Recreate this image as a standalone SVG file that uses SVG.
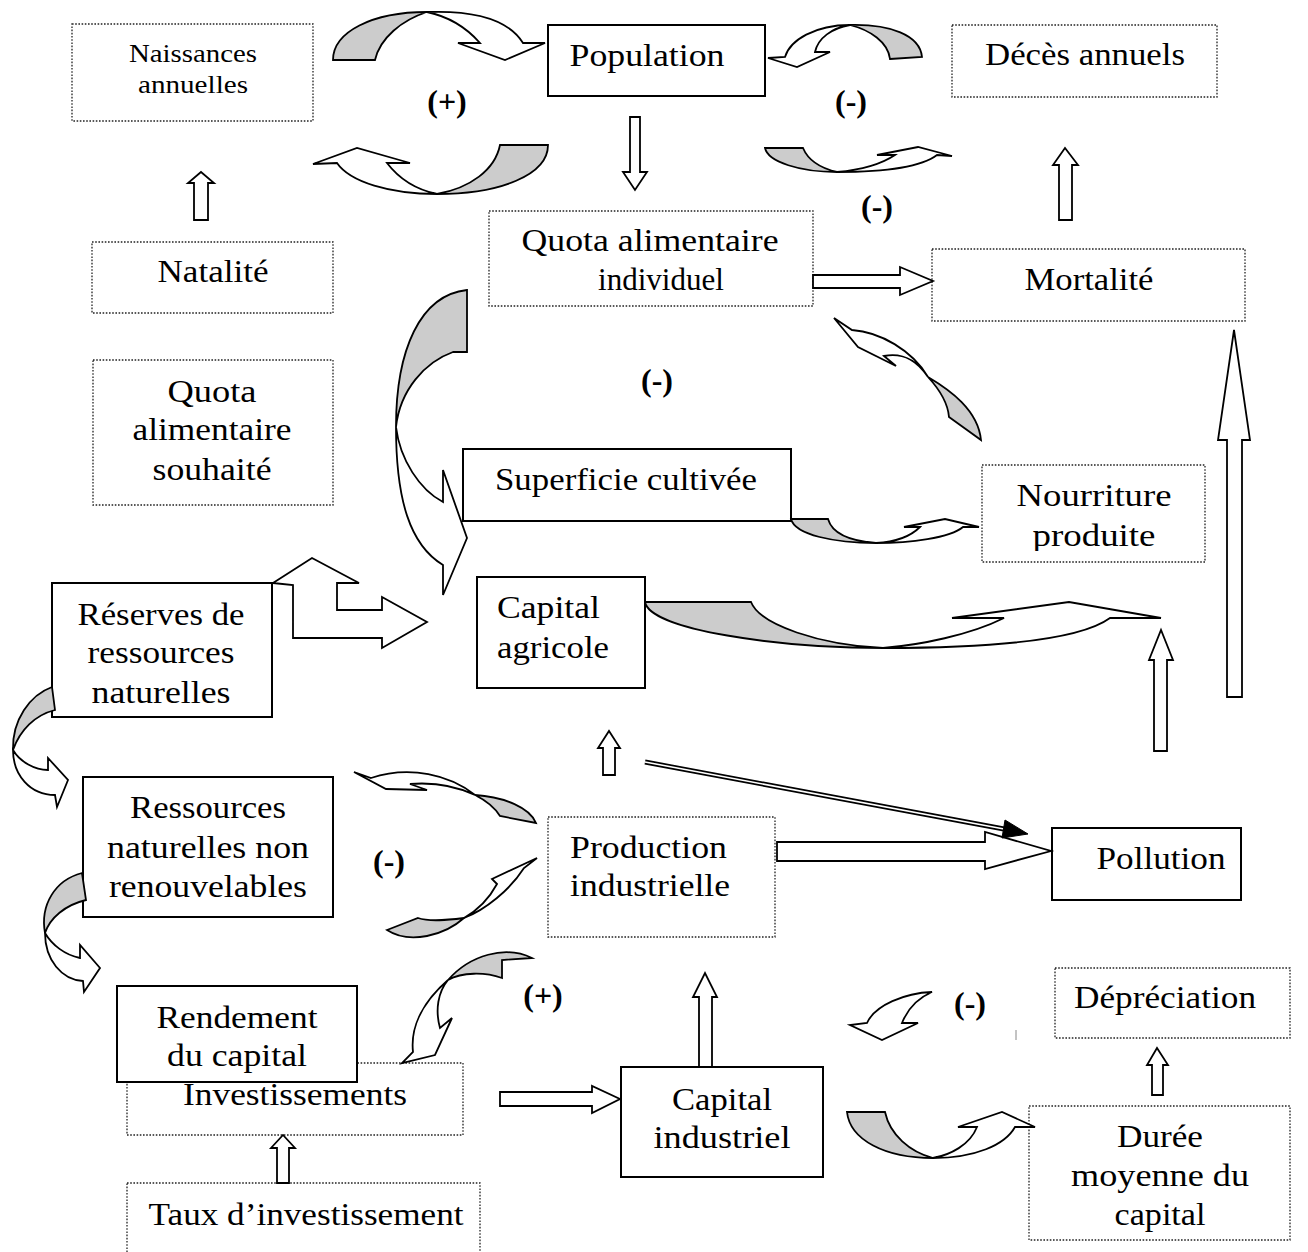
<svg xmlns="http://www.w3.org/2000/svg" width="1308" height="1252" viewBox="0 0 1308 1252">
<style>
.solid{fill:#fff;stroke:#000;stroke-width:2}
.dot{fill:#fff;stroke:#222;stroke-width:1.3;stroke-dasharray:1.6 1.6}
.t{font-family:"Liberation Serif",serif;font-size:32px;fill:#000;text-anchor:middle}
.l{text-anchor:start}
.s{font-weight:bold}
.blk{fill:#fff;stroke:#000;stroke-width:1.8;stroke-linejoin:miter}
.g{fill:#cccccc;stroke:#000;stroke-width:1.8;stroke-linejoin:miter}
</style>
<defs>
<clipPath id="clipNour"><rect x="982" y="465" width="223" height="86"/></clipPath>
</defs>
<rect width="1308" height="1252" fill="#fff"/>

<g id="nodes">
<g id="naissances"><rect class="dot" x="72" y="24" width="241" height="97"/>
<text class="t" style="font-size:26px" x="193" y="62" textLength="128" lengthAdjust="spacingAndGlyphs">Naissances</text>
<text class="t" style="font-size:26px" x="193" y="93" textLength="110" lengthAdjust="spacingAndGlyphs">annuelles</text></g>
<g id="population"><rect class="solid" x="548" y="25" width="217" height="71"/>
<text class="t" x="647" y="66" textLength="155" lengthAdjust="spacingAndGlyphs">Population</text></g>
<g id="deces"><rect class="dot" x="952" y="25" width="265" height="72"/>
<text class="t" x="1085" y="65" textLength="200" lengthAdjust="spacingAndGlyphs">Décès annuels</text></g>
<g id="natalite"><rect class="dot" x="92" y="242" width="241" height="71"/>
<text class="t" x="213" y="282" textLength="111" lengthAdjust="spacingAndGlyphs">Natalité</text></g>
<g id="quota-indiv"><rect class="dot" x="489" y="211" width="324" height="95"/>
<text class="t" x="650" y="251" textLength="257" lengthAdjust="spacingAndGlyphs">Quota alimentaire</text>
<text class="t" x="661" y="290" textLength="126" lengthAdjust="spacingAndGlyphs">individuel</text></g>
<g id="mortalite"><rect class="dot" x="932" y="249" width="313" height="72"/>
<text class="t" x="1089" y="290" textLength="129" lengthAdjust="spacingAndGlyphs">Mortalité</text></g>
<g id="quota-souhaite"><rect class="dot" x="93" y="360" width="240" height="145"/>
<text class="t" x="212" y="402" textLength="89" lengthAdjust="spacingAndGlyphs">Quota</text>
<text class="t" x="212" y="440" textLength="159" lengthAdjust="spacingAndGlyphs">alimentaire</text>
<text class="t" x="212" y="480" textLength="119" lengthAdjust="spacingAndGlyphs">souhaité</text></g>
<g id="superficie"><rect class="solid" x="463" y="449" width="328" height="72"/>
<text class="t" x="626" y="490" textLength="262" lengthAdjust="spacingAndGlyphs">Superficie cultivée</text></g>
<g id="nourriture"><rect class="dot" x="982" y="465" width="223" height="97"/>
<g clip-path="url(#clipNour)">
<text class="t" x="1094" y="506" textLength="155" lengthAdjust="spacingAndGlyphs">Nourriture</text>
<text class="t" x="1094" y="546" textLength="123" lengthAdjust="spacingAndGlyphs">produite</text></g></g>
<g id="capital-agricole"><rect class="solid" x="477" y="577" width="168" height="111"/>
<text class="t l" x="497" y="618" textLength="103" lengthAdjust="spacingAndGlyphs">Capital</text>
<text class="t l" x="497" y="658" textLength="112" lengthAdjust="spacingAndGlyphs">agricole</text></g>
<g id="reserves"><rect class="solid" x="52" y="583" width="220" height="134"/>
<text class="t" x="161" y="625" textLength="167" lengthAdjust="spacingAndGlyphs">Réserves de</text>
<text class="t" x="161" y="663" textLength="147" lengthAdjust="spacingAndGlyphs">ressources</text>
<text class="t" x="161" y="703" textLength="139" lengthAdjust="spacingAndGlyphs">naturelles</text></g>
<g id="ressources"><rect class="solid" x="83" y="777" width="250" height="140"/>
<text class="t" x="208" y="818" textLength="156" lengthAdjust="spacingAndGlyphs">Ressources</text>
<text class="t" x="208" y="858" textLength="202" lengthAdjust="spacingAndGlyphs">naturelles non</text>
<text class="t" x="208" y="897" textLength="198" lengthAdjust="spacingAndGlyphs">renouvelables</text></g>
<g id="production"><rect class="dot" x="548" y="817" width="227" height="120"/>
<text class="t l" x="570" y="858" textLength="157" lengthAdjust="spacingAndGlyphs">Production</text>
<text class="t l" x="570" y="896" textLength="160" lengthAdjust="spacingAndGlyphs">industrielle</text></g>
<g id="pollution"><rect class="solid" x="1052" y="828" width="189" height="72"/>
<text class="t" x="1161" y="869" textLength="129" lengthAdjust="spacingAndGlyphs">Pollution</text></g>
<g id="investissements"><rect class="dot" x="127" y="1063" width="336" height="72"/>
<text class="t" x="295" y="1105" textLength="224" lengthAdjust="spacingAndGlyphs">Investissements</text></g>
<g id="rendement"><rect class="solid" x="117" y="986" width="240" height="96"/>
<text class="t" x="237" y="1028" textLength="161" lengthAdjust="spacingAndGlyphs">Rendement</text>
<text class="t" x="237" y="1066" textLength="140" lengthAdjust="spacingAndGlyphs">du capital</text></g>
<g id="taux"><rect class="dot" x="127" y="1183" width="353" height="80"/>
<text class="t" x="306" y="1225" textLength="315" lengthAdjust="spacingAndGlyphs">Taux d’investissement</text></g>
<g id="capital-industriel"><rect class="solid" x="621" y="1067" width="202" height="110"/>
<text class="t" x="722" y="1110" textLength="100" lengthAdjust="spacingAndGlyphs">Capital</text>
<text class="t" x="722" y="1148" textLength="137" lengthAdjust="spacingAndGlyphs">industriel</text></g>
<g id="depreciation"><rect class="dot" x="1055" y="968" width="235" height="70"/>
<text class="t" x="1165" y="1008" textLength="182" lengthAdjust="spacingAndGlyphs">Dépréciation</text></g>
<g id="duree"><rect class="dot" x="1029" y="1106" width="261" height="134"/>
<text class="t" x="1160" y="1147" textLength="86" lengthAdjust="spacingAndGlyphs">Durée</text>
<text class="t" x="1160" y="1186" textLength="178" lengthAdjust="spacingAndGlyphs">moyenne du</text>
<text class="t" x="1160" y="1225" textLength="91" lengthAdjust="spacingAndGlyphs">capital</text></g>
</g>

<g id="signs">
<text class="t s" x="447" y="112">(+)</text>
<text class="t s" x="851" y="112">(-)</text>
<text class="t s" x="877" y="217">(-)</text>
<text class="t s" x="657" y="391">(-)</text>
<text class="t s" x="389" y="872">(-)</text>
<text class="t s" x="543" y="1006">(+)</text>
<text class="t s" x="970" y="1014">(-)</text>
</g>

<g id="connectors">
<!-- top-left loop -->
<path class="g" d="M333,60 C333,32 372,12 427,12 C402,20 380,38 375,60 Z"/>
<path class="blk" d="M427,12 C480,10 510,22 523,43 L545,43 L505,60 L458,43 L480,43 C465,26 446,16 427,12 Z"/>
<path class="g" d="M500,145 L548,145 C548,175 500,194 437,194 C470,188 495,170 500,145 Z"/>
<path class="blk" d="M437,194 C390,194 350,182 337,163 L313,164 L357,148 L410,163 L387,163 C400,180 418,190 437,194 Z"/>
<!-- top-right loop -->
<path class="g" d="M890,59 L922,57 C920,35 890,24 850,25 C870,30 888,42 890,59 Z"/>
<path class="blk" d="M850,25 C815,25 790,40 785,57 L768,58 L797,67 L830,52 L815,52 C818,38 832,28 850,25 Z"/>
<path class="g" d="M765,148 L803,148 C808,160 820,168 837,172 C800,172 768,162 765,148 Z"/>
<path class="blk" d="M837,172 C880,172 920,168 937,155 L952,156 L918,147 L877,155 L895,155 C880,165 860,170 837,172 Z"/>
<!-- straight block arrows -->
<polygon class="blk" points="630,117 640,117 640,172 647,172 635,190 623,172 630,172"/>
<polygon class="blk" points="194,220 208,220 208,183 214,183 201,172 188,183 194,183"/>
<polygon class="blk" points="1059,220 1072,220 1072,165 1078,165 1065,148 1053,165 1059,165"/>
<polygon class="blk" points="813,275 900,275 900,267 933,281 900,295 900,288 813,288"/>
<polygon class="blk" points="603,775 615,775 615,748 620,748 609,731 598,748 603,748"/>
<polygon class="blk" points="1154,751 1167,751 1167,660 1173,660 1161,630 1149,660 1154,660"/>
<polygon class="blk" points="1227,697 1242,697 1242,440 1250,440 1234,330 1218,440 1227,440"/>
<polygon class="blk" points="777,842 985,842 985,832 1051,851 985,869 985,861 777,861"/>
<polygon class="blk" points="500,1092 592,1092 592,1086 620,1099 592,1113 592,1106 500,1106"/>
<polygon class="blk" points="277,1183 289,1183 289,1148 295,1148 283,1135 271,1148 277,1148"/>
<polygon class="blk" points="699,1067 712,1067 712,997 717,997 705,973 693,997 699,997"/>
<polygon class="blk" points="1152,1095 1163,1095 1163,1065 1168,1065 1157,1048 1147,1065 1152,1065"/>
<!-- Réserves -> Capital agricole -->
<polygon class="blk" points="273,583 312,558 359,583 337,583 337,610 382,610 382,597 427,622 382,648 382,638 293,638 293,585"/>
<!-- big left curve: Quota individuel -> Superficie / Capital -->
<path class="g" d="M467,290 L467,352 L453,352 C425,362 400,390 396,427 C396,350 420,295 467,290 Z"/>
<path class="blk" d="M396,427 C400,460 420,490 443,502 L443,470 L467,538 L443,595 L443,565 C410,545 396,500 396,427 Z"/>
<!-- Nourriture -> Quota individuel -->
<path class="blk" d="M852,330 C880,332 912,350 928,377 C918,362 905,352 884,356 L896,366 L858,347 L834,318 Z"/>
<path class="g" d="M928,377 C950,390 978,410 981,440 L949,417 C948,405 940,390 928,377 Z"/>
<!-- Superficie -> Nourriture -->
<path class="g" d="M791,519 L828,519 C832,533 850,541 876,543 C835,543 795,535 791,519 Z"/>
<path class="blk" d="M876,543 C910,543 950,538 963,527 L979,527 L945,519 L904,527 L920,527 C910,537 895,542 876,543 Z"/>
<!-- Capital agricole -> Pollution -->
<path class="g" d="M645,602 L751,602 C760,625 820,645 883,648 C780,648 650,630 645,602 Z"/>
<path class="blk" d="M883,648 C990,648 1080,640 1110,618 L1161,618 L1069,602 L952,618 L1004,618 C970,635 920,645 883,648 Z"/>
<!-- Réserves -> Ressources -->
<path class="g" d="M52,687 L55,710 C35,715 20,730 13,750 C12,720 30,695 52,687 Z"/>
<path class="blk" d="M13,750 C13,775 30,795 55,795 L57,807 L68,780 L48,758 L48,770 C35,770 20,762 13,750 Z"/>
<!-- Ressources -> Rendement -->
<path class="g" d="M82,873 L86,900 C65,905 50,918 45,933 C40,905 55,880 82,873 Z"/>
<path class="blk" d="M45,933 C45,960 62,980 83,981 L84,992 L100,968 L80,945 L80,958 C65,955 52,945 45,933 Z"/>
<!-- Production <-> Ressources -->
<path class="blk" d="M475,795 C450,775 410,765 371,778 L354,772 L386,789 L427,790 L410,784 C435,782 458,787 475,795 Z"/>
<path class="g" d="M475,795 C505,797 530,808 536,823 L500,816 C495,808 485,800 475,795 Z"/>
<path class="g" d="M387,930 L418,918 C430,922 448,920 464,918 C445,935 410,945 387,930 Z"/>
<path class="blk" d="M464,918 C485,910 510,890 524,868 L537,858 L492,879 L497,884 C490,897 478,910 464,918 Z"/>
<!-- (+) Investissements -->
<path class="g" d="M448,980 C470,955 505,945 532,958 L502,960 L502,978 C485,972 462,972 448,980 Z"/>
<path class="blk" d="M448,980 C425,1000 410,1025 413,1052 L402,1063 L435,1055 L452,1018 L440,1028 C435,1010 438,992 448,980 Z"/>
<!-- bottom-right loop -->
<path class="blk" d="M932,992 C905,993 875,1005 867,1023 L850,1025 L882,1040 L918,1023 L902,1023 C908,1008 918,998 932,992 Z"/>
<path class="g" d="M847,1112 L885,1112 C890,1135 910,1152 933,1158 C885,1158 850,1140 847,1112 Z"/>
<path class="blk" d="M933,1158 C975,1158 1005,1145 1015,1127 L1035,1127 L1002,1112 L958,1127 L977,1127 C970,1145 950,1155 933,1158 Z"/>
<!-- double line arrow -->
<line x1="645" y1="762" x2="1004" y2="829" stroke="#000" stroke-width="5"/>
<line x1="645" y1="762" x2="1004" y2="829" stroke="#fff" stroke-width="1.6"/>
<polygon points="1028,834 1005,820 1002,838" fill="#000" stroke="#000" stroke-width="1"/>
<line x1="1016" y1="1030" x2="1016" y2="1040" stroke="#888" stroke-width="1"/>
</g>
</svg>
